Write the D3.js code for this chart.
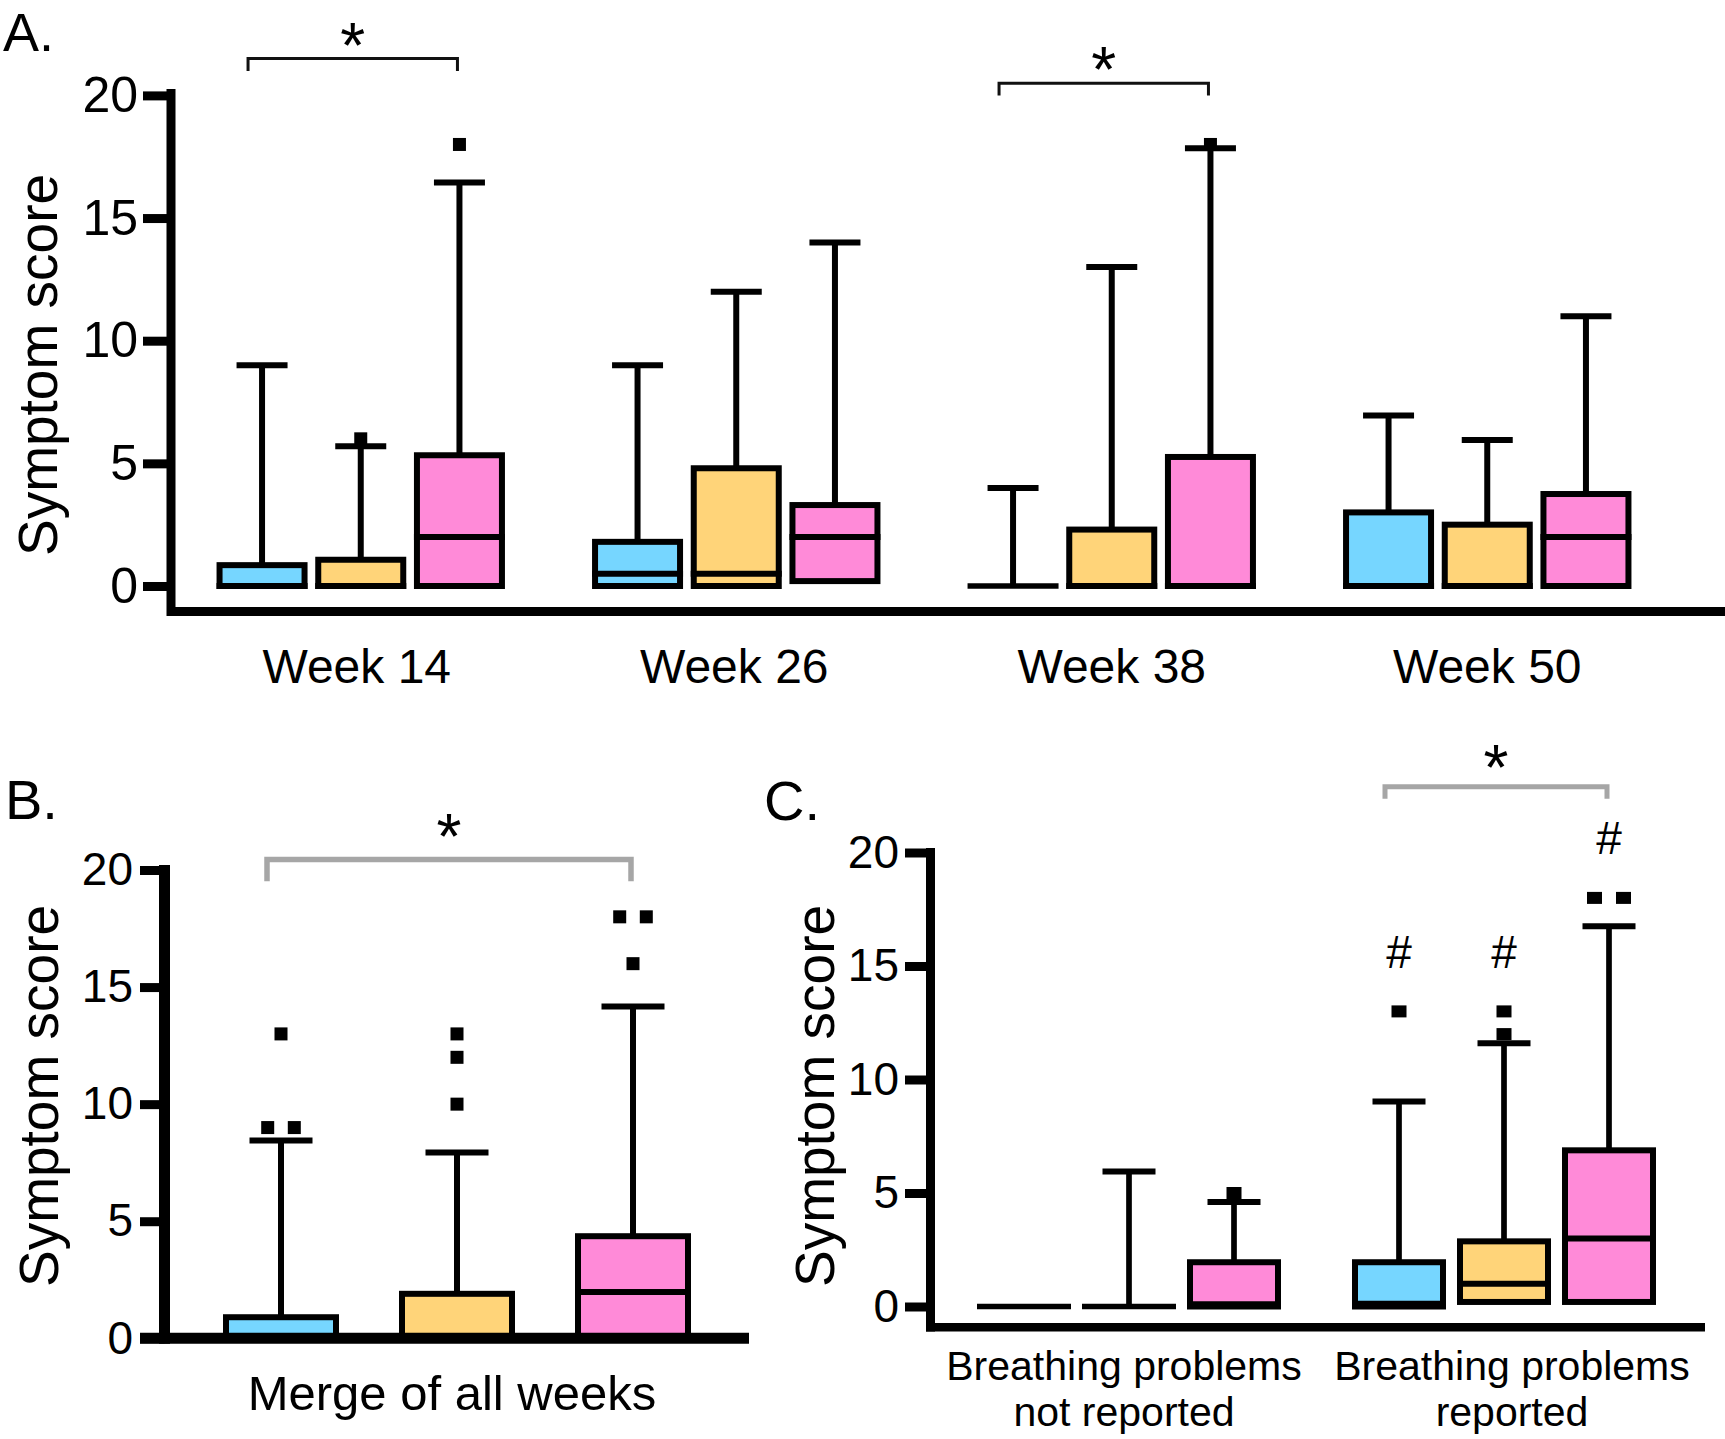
<!DOCTYPE html>
<html><head><meta charset="utf-8">
<script src="https://cdn.jsdelivr.net/npm/d3@7"></script>
<style>
html,body{margin:0;padding:0;background:#fff;}
svg{display:block;}
text{font-family:"Liberation Sans",Arial,Helvetica,sans-serif;fill:#000;}
</style></head><body>
<svg id="chart" width="1725" height="1439"></svg>
<script>
// ================= DATA =================
const seriesNames = ["Group 1", "Group 2", "Group 3"];
const yTickValues = [0, 5, 10, 15, 20];

// Panel A  — stats: [lower whisker, Q1, median, Q3, upper whisker]
const weekCategories = ["Week 14", "Week 26", "Week 38", "Week 50"];
const weekStatsGroup1 = [[0,0,0,0.85,9], [0,0,0.5,1.8,9], [0,0,0,0,4], [0,0,0,3.0,6.95]];
const weekStatsGroup2 = [[0,0,0,1.07,5.7], [0,0,0.5,4.8,12], [0,0,0,2.3,13], [0,0,0,2.5,5.95]];
const weekStatsGroup3 = [[0,0,2,5.33,16.45], [0.2,0.2,2,3.3,14], [0,0,0,5.26,17.85], [0,0,2,3.75,11]];
const weekOutliersGroup1 = [[], [], [], []];
const weekOutliersGroup2 = [[6], [], [], []];
const weekOutliersGroup3 = [[18], [], [18], []];
const weekSignificance = [
  {category: "Week 14", from: "Group 1", to: "Group 3", level: 21.5, label: "*"},
  {category: "Week 38", from: "Group 1", to: "Group 3", level: 20.5, label: "*"}
];

// Panel B
const mergeCategories = ["Merge of all weeks"];
const mergeStatsGroup1 = [[0,0,0,0.9,8.45]];
const mergeStatsGroup2 = [[0,0,0,1.9,7.93]];
const mergeStatsGroup3 = [[0,0,1.98,4.36,14.17]];
const mergeOutliersGroup1 = [[9, 9, 13]];
const mergeOutliersGroup2 = [[10, 12, 13]];
const mergeOutliersGroup3 = [[16, 18, 18]];
const mergeSignificance = [
  {category: "Merge of all weeks", from: "Group 1", to: "Group 3", level: 20.45, label: "*"}
];

// Panel C
const breathingCategories = ["Breathing problems|not reported", "Breathing problems|reported"];
const breathingStatsGroup1 = [[0,0,0,0,0], [0,0,0.12,1.95,9.03]];
const breathingStatsGroup2 = [[0,0,0,0,5.95], [0.2,0.2,1,2.87,11.6]];
const breathingStatsGroup3 = [[0,0,0.1,1.95,4.6], [0.2,0.2,3,6.88,16.75]];
const breathingOutliersGroup1 = [[], [13]];
const breathingOutliersGroup2 = [[], [12, 13]];
const breathingOutliersGroup3 = [[5], [18, 18]];
const breathingSignificance = [
  {category: "Breathing problems|reported", from: "Group 1", to: "Group 3", level: 22.9, label: "*"}
];
const breathingHashCategories = ["Breathing problems|reported"];

// ================= STYLE / LAYOUT =================
const seriesColor = d3.scaleOrdinal().domain(seriesNames).range(["#76D6FF", "#FFD479", "#FF8AD8"]);
const svg = d3.select("#chart");
const FONT = '"Liberation Sans",Arial,Helvetica,sans-serif';

function drawPanel(cfg) {
  const g = svg.append("g");
  const y = d3.scaleLinear().domain([0, 20]).range(cfg.yRange);
  const x = d3.scaleBand().domain(cfg.categories).range(cfg.xRange).padding(0);
  const xs = d3.scaleBand().domain(seriesNames)
      .range([-1.5 * cfg.subStep, 1.5 * cfg.subStep]).padding(0);
  const cx = (cat, s) => x(cat) + x.bandwidth() / 2 + xs(s) + xs.bandwidth() / 2;
  const w = cfg.boxW;

  const recs = [];
  cfg.categories.forEach((cat, i) => {
    seriesNames.forEach((s, k) => {
      const st = cfg.stats[k][i];
      recs.push({cat, s, lo: st[0], q1: st[1], med: st[2], q3: st[3], hi: st[4], out: cfg.outliers[k][i]});
    });
  });

  // whiskers
  const wg = g.append("g");
  recs.filter(d => d.hi > d.q3).forEach(d => {
    const c = cx(d.cat, d.s);
    wg.append("line").attr("x1", c).attr("x2", c)
      .attr("y1", y(d.q3)).attr("y2", y(d.hi))
      .attr("stroke", "#000").attr("stroke-width", cfg.whiskerW);
    wg.append("line").attr("x1", c - cfg.capW / 2).attr("x2", c + cfg.capW / 2)
      .attr("y1", y(d.hi)).attr("y2", y(d.hi))
      .attr("stroke", "#000").attr("stroke-width", 6);
  });

  // boxes
  const bg = g.append("g");
  recs.filter(d => d.q3 > d.q1).forEach(d => {
    const c = cx(d.cat, d.s);
    bg.append("rect").attr("x", c - w / 2).attr("width", w)
      .attr("y", y(d.q3)).attr("height", y(d.q1) - y(d.q3))
      .attr("fill", seriesColor(d.s)).attr("stroke", "#000").attr("stroke-width", 6);
  });
  recs.forEach(d => {
    const c = cx(d.cat, d.s);
    const isFlat = !(d.q3 > d.q1);
    bg.append("line").attr("x1", c - (w + 6) / 2).attr("x2", c + (w + 6) / 2)
      .attr("y1", y(d.med)).attr("y2", y(d.med))
      .attr("stroke", "#000").attr("stroke-width", isFlat ? 5.5 : 6);
  });

  // outliers
  const og = g.append("g");
  recs.forEach(d => {
    const c = cx(d.cat, d.s);
    const counts = d3.rollup(d.out, v => v.length, v => v);
    counts.forEach((n, v) => {
      for (let j = 0; j < n; j++) {
        const off = (j - (n - 1) / 2) * cfg.dupSpacing;
        og.append("rect")
          .attr("x", c + off - cfg.ptW / 2).attr("y", y(v) - cfg.ptH / 2)
          .attr("width", cfg.ptW).attr("height", cfg.ptH).attr("fill", "#000");
      }
    });
  });

  // hash markers
  if (cfg.hashCats) {
    recs.filter(d => cfg.hashCats.includes(d.cat)).forEach(d => {
      const top = d3.max([d.hi, ...d.out]);
      g.append("text").attr("x", cx(d.cat, d.s)).attr("y", y(top) - 60 + 16.5)
        .attr("text-anchor", "middle").attr("font-size", 46).text("#");
    });
  }

  // y ticks & labels via d3.axisLeft
  const ax = g.append("g").attr("transform", `translate(${cfg.axisX},0)`)
    .call(d3.axisLeft(y).tickValues(yTickValues).tickSize(cfg.tickLen)
      .tickPadding(cfg.tickPad).tickSizeOuter(0));
  ax.select(".domain").remove();
  ax.selectAll(".tick line").attr("stroke", "#000").attr("stroke-width", 9);
  ax.selectAll(".tick text").attr("font-size", cfg.tickFont).attr("font-family", FONT).attr("fill", "#000");

  // axis lines
  g.append("line").attr("x1", cfg.axisX).attr("x2", cfg.axisX)
    .attr("y1", cfg.axisTop).attr("y2", cfg.xAxisY + cfg.xAxisW / 2)
    .attr("stroke", "#000").attr("stroke-width", cfg.axisW);
  g.append("line").attr("x1", cfg.xAxisX1).attr("x2", cfg.xAxisX2)
    .attr("y1", cfg.xAxisY).attr("y2", cfg.xAxisY)
    .attr("stroke", "#000").attr("stroke-width", cfg.xAxisW);

  // category labels
  cfg.categories.forEach((cat, ci) => {
    const lines = cat.split("|");
    const t = g.append("text").attr("text-anchor", "middle").attr("font-size", cfg.catFont);
    const off = cfg.catOffsets ? cfg.catOffsets[ci] : 0;
    lines.forEach((ln, li) => {
      t.append("tspan").attr("x", x(cat) + x.bandwidth() / 2 + off)
        .attr("y", cfg.catY + li * cfg.catLineH).text(ln);
    });
  });

  // y label
  g.append("text").attr("transform", `translate(${cfg.yLabelX},${cfg.yLabelY}) rotate(-90)`)
    .attr("text-anchor", "middle").attr("font-size", 55).text("Symptom score");

  // panel letter
  g.append("text").attr("x", cfg.letterX).attr("y", cfg.letterY)
    .attr("font-size", cfg.letterFont).text(cfg.letter);

  // significance brackets
  cfg.sig.forEach(sg => {
    const x1 = cx(sg.category, sg.from) - 14, x2 = cx(sg.category, sg.to) - 2;
    const yy = y(sg.level);
    g.append("path")
      .attr("d", `M${x1},${yy + cfg.legLen}V${yy}H${x2}V${yy + cfg.legLen}`)
      .attr("fill", "none").attr("stroke", cfg.sigColor).attr("stroke-width", cfg.sigW);
    g.append("text").attr("x", (x1 + x2) / 2).attr("y", yy - cfg.starGap + 37)
      .attr("text-anchor", "middle").attr("font-size", 64).text(sg.label);
  });
}

drawPanel({
  letter: "A.", letterX: 3, letterY: 51, letterFont: 54,
  categories: weekCategories,
  stats: [weekStatsGroup1, weekStatsGroup2, weekStatsGroup3],
  outliers: [weekOutliersGroup1, weekOutliersGroup2, weekOutliersGroup3],
  sig: weekSignificance,
  yRange: [586, 95.4], xRange: [173, 1675], subStep: 98.7, boxW: 85, capW: 51, whiskerW: 6,
  ptW: 13, ptH: 13, dupSpacing: 26,
  axisX: 171, axisW: 9, axisTop: 89, xAxisY: 611.5, xAxisW: 9, xAxisX1: 167, xAxisX2: 1725,
  tickLen: 28, tickPad: 5, tickFont: 50,
  catY: 683, catFont: 48, catLineH: 0, catOffsets: [-4, -2, 0, 0],
  yLabelX: 57, yLabelY: 365,
  legLen: 12.4, sigColor: "#111", sigW: 3, starGap: 28
});

drawPanel({
  letter: "B.", letterX: 5, letterY: 819, letterFont: 56,
  categories: mergeCategories,
  stats: [mergeStatsGroup1, mergeStatsGroup2, mergeStatsGroup3],
  outliers: [mergeOutliersGroup1, mergeOutliersGroup2, mergeOutliersGroup3],
  sig: mergeSignificance,
  yRange: [1338.3, 870], xRange: [170, 744], subStep: 176, boxW: 110, capW: 63, whiskerW: 6,
  ptW: 13, ptH: 13, dupSpacing: 26.6,
  axisX: 164.5, axisW: 11, axisTop: 865, xAxisY: 1338.3, xAxisW: 11, xAxisX1: 140, xAxisX2: 749,
  tickLen: 24.5, tickPad: 7, tickFont: 46,
  catY: 1410, catFont: 49, catLineH: 0, catOffsets: [-5],
  yLabelX: 58, yLabelY: 1096,
  legLen: 21.7, sigColor: "#a6a6a6", sigW: 5.5, starGap: 37
});

drawPanel({
  letter: "C.", letterX: 764, letterY: 820, letterFont: 56,
  categories: breathingCategories,
  stats: [breathingStatsGroup1, breathingStatsGroup2, breathingStatsGroup3],
  outliers: [breathingOutliersGroup1, breathingOutliersGroup2, breathingOutliersGroup3],
  sig: breathingSignificance, hashCats: breathingHashCategories,
  yRange: [1306.5, 852.5], xRange: [941.5, 1691.5], subStep: 105, boxW: 88, capW: 53, whiskerW: 5.7,
  ptW: 15, ptH: 12, dupSpacing: 29,
  axisX: 930.5, axisW: 9, axisTop: 848, xAxisY: 1327.3, xAxisW: 8.5, xAxisX1: 926, xAxisX2: 1705,
  tickLen: 25.5, tickPad: 6, tickFont: 46,
  catY: 1380, catFont: 41, catLineH: 46, catOffsets: [-5, 8],
  yLabelX: 834, yLabelY: 1096,
  legLen: 12, sigColor: "#a6a6a6", sigW: 5, starGap: 34
});
</script>
</body></html>
